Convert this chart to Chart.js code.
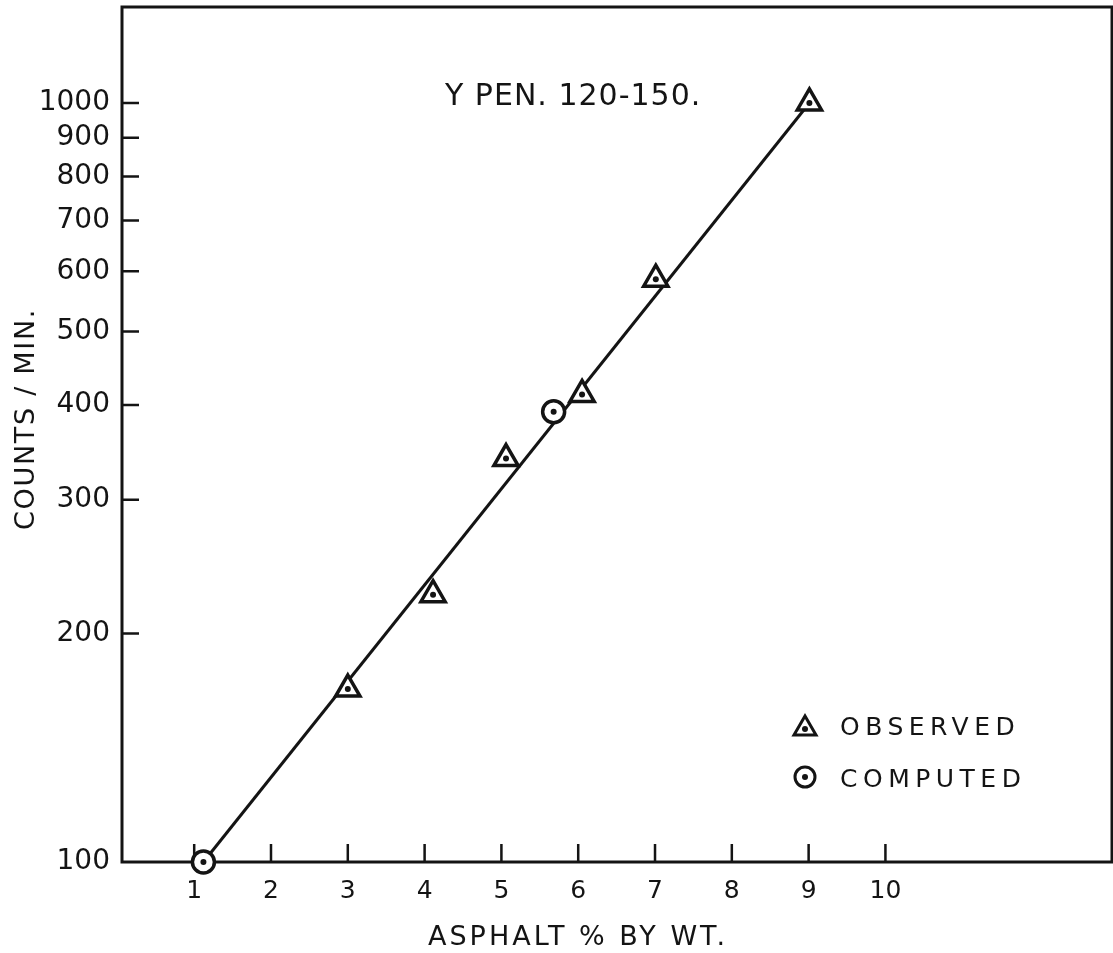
<!DOCTYPE html>
<html>
<head>
<meta charset="utf-8">
<script src="https://cdn.jsdelivr.net/npm/chart.js@4.4.0/dist/chart.umd.min.js"></script>
<style>
  html, body { margin: 0; padding: 0; background: #fff; }
  #wrap { width: 1113px; height: 953px; }
</style>
</head>
<body>
<div id="wrap"><canvas id="myChart"></canvas></div>
<script>
// data
var observedX = [3.0, 4.11, 5.06, 6.05, 7.01, 9.01];
var observedY = [169, 225, 340, 413, 586, 1000];
var computedX = [1.12, 5.68];
var computedY = [100, 392];
var fitX = [1.12, 9.01];
var fitY = [100, 1000];

var xTicks = [1, 2, 3, 4, 5, 6, 7, 8, 9, 10];
var yTicks = [100, 200, 300, 400, 500, 600, 700, 800, 900, 1000];

var FONT = "'DejaVu Sans', sans-serif";
var INK = "#141414";

function pts(xs, ys) {
  return xs.map(function (x, i) { return { x: x, y: ys[i] }; });
}

//Frame, inner tick marks and the lettering
var paper = {
  id: "paper",
  beforeDatasetsDraw: function (chart) {
    var ctx = chart.ctx, a = chart.chartArea;
    var xs = chart.scales.x, ys = chart.scales.y;
    ctx.save();
    ctx.strokeStyle = INK;
    ctx.lineWidth = 3;
    ctx.strokeRect(a.left, a.top, a.right - a.left, a.bottom - a.top);
    ctx.lineWidth = 2.5;
    ctx.beginPath();
    xTicks.forEach(function (v) {
      var px = xs.getPixelForValue(v);
      ctx.moveTo(px, a.bottom);
      ctx.lineTo(px, a.bottom - 18);
    });
    yTicks.forEach(function (v) {
      if (v === 100) return;
      var py = ys.getPixelForValue(v);
      ctx.moveTo(a.left, py);
      ctx.lineTo(a.left + 17, py);
    });
    ctx.stroke();
    ctx.restore();
  },
  afterDraw: function (chart) {
    var ctx = chart.ctx;
    ctx.save();
    ctx.fillStyle = INK;
    ctx.textBaseline = "alphabetic";
    ctx.textAlign = "left";

    ctx.font = "30px " + FONT;
    ctx.letterSpacing = "1px";
    ctx.fillText("Y PEN. 120-150.", 445, 105);

    ctx.font = "27px " + FONT;
    ctx.letterSpacing = "3px";
    ctx.fillText("ASPHALT % BY WT.", 428, 945);

    ctx.save();
    ctx.translate(34, 530);
    ctx.rotate(-Math.PI / 2);
    ctx.letterSpacing = "1.7px";
    ctx.fillText("COUNTS / MIN.", 0, 0);
    ctx.restore();

    // legend
    ctx.font = "25px " + FONT;
    ctx.letterSpacing = "5.5px";
    ctx.fillText("OBSERVED", 840, 735);
    ctx.fillText("COMPUTED", 840, 787);

    ctx.strokeStyle = INK;
    ctx.lineWidth = 3;
    ctx.beginPath();
    ctx.moveTo(805, 716);
    ctx.lineTo(816, 735);
    ctx.lineTo(794, 735);
    ctx.closePath();
    ctx.stroke();
    ctx.beginPath();
    ctx.arc(805, 729, 3, 0, Math.PI * 2);
    ctx.fill();

    ctx.beginPath();
    ctx.arc(805, 777, 10, 0, Math.PI * 2);
    ctx.stroke();
    ctx.beginPath();
    ctx.arc(805, 777, 3, 0, Math.PI * 2);
    ctx.fill();
    ctx.restore();
  },
};

var ctx = document.getElementById("myChart").getContext("2d");
var chart = new Chart(ctx, {
  type: "scatter",
  data: {
    datasets: [
      {
        label: "dots",
        data: pts(observedX.concat(computedX), observedY.concat(computedY)),
        pointRadius: 3,
        pointBackgroundColor: INK,
        pointBorderWidth: 0,
        order: 0,
        clip: false,
      },
      {
        label: "OBSERVED",
        data: pts(observedX, observedY),
        pointStyle: "triangle",
        pointRadius: 14,
        pointBorderWidth: 3.5,
        pointBorderColor: INK,
        pointBackgroundColor: "#fff",
        order: 1,
        clip: false,
      },
      {
        label: "COMPUTED",
        data: pts(computedX, computedY),
        pointStyle: "circle",
        pointRadius: 11,
        pointBorderWidth: 3.5,
        pointBorderColor: INK,
        pointBackgroundColor: "#fff",
        order: 1,
        clip: false,
      },
      {
        label: "fit",
        data: pts(fitX, fitY),
        showLine: true,
        borderColor: INK,
        borderWidth: 3,
        pointRadius: 0,
        order: 2,
        clip: false,
      },
    ],
  },
  plugins: [paper],
  options: {
    responsive: true,
    maintainAspectRatio: false,
    animation: false,
    layout: { autoPadding: false, padding: { top: 7, right: 1, left: 0, bottom: 0 } },
    plugins: {
      legend: { display: false },
      tooltip: { enabled: false },
    },
    scales: {
      x: {
        type: "linear",
        min: 0.06,
        max: 12.95,
        grid: { display: false, drawTicks: false },
        border: { display: false },
        afterBuildTicks: function (scale) {
          scale.ticks = xTicks.map(function (v) { return { value: v }; });
        },
        afterFit: function (scale) {
          scale.height = 91;
          scale.paddingLeft = 0;
          scale.paddingRight = 0;
        },
        ticks: {
          autoSkip: false,
          maxRotation: 0,
          padding: 14,
          color: INK,
          font: { family: FONT, size: 25 },
          callback: function (v) { return String(v); },
        },
      },
      y: {
        type: "logarithmic",
        min: 100,
        max: 1338,
        grid: { display: false, drawTicks: false },
        border: { display: false },
        afterBuildTicks: function (scale) {
          scale.ticks = yTicks.map(function (v) { return { value: v }; });
        },
        afterFit: function (scale) {
          scale.width = 122;
          scale.paddingTop = 0;
          scale.paddingBottom = 0;
        },
        ticks: {
          autoSkip: false,
          padding: 12,
          color: INK,
          font: { family: FONT, size: 28 },
          callback: function (v) { return String(v); },
        },
      },
    },
  },
});
</script>
</body>
</html>
